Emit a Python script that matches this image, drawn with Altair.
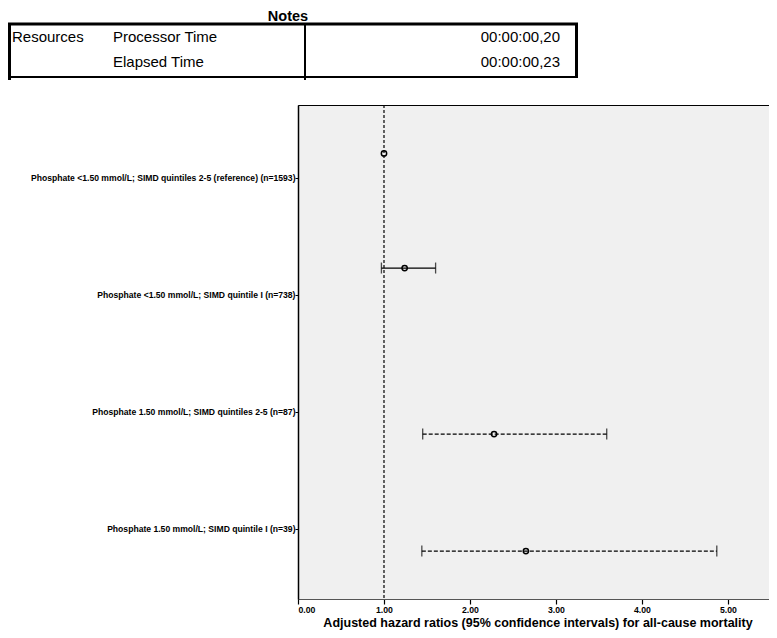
import altair as alt
import pandas as pd

# ---- data ----
categories = [
    "Phosphate <1.50 mmol/L; SIMD quintiles 2-5 (reference) (n=1593)",
    "Phosphate <1.50 mmol/L; SIMD quintile I (n=738)",
    "Phosphate 1.50 mmol/L; SIMD quintiles 2-5 (n=87)",
    "Phosphate 1.50 mmol/L; SIMD quintile I (n=39)",
]
hazard_ratio = [1.00, 1.24, 2.28, 2.65]
ci_lower = [1.00, 0.97, 1.45, 1.44]
ci_upper = [1.00, 1.60, 3.59, 4.87]
line_style = ["solid", "solid", "dashed", "dashed"]
label_row = [1, 2, 3, 4]
marker_row = [0.79, 1.77, 3.19, 4.19]
x_ticks = [0, 1, 2, 3, 4, 5]
reference_value = [1.0]

notes_title = "Notes"
notes_group = "Resources"
notes_items = ["Processor Time", "Elapsed Time"]
notes_values = ["00:00:00,20", "00:00:00,23"]
x_title = "Adjusted hazard ratios (95% confidence intervals) for all-cause mortality"

FONT = "Liberation Sans"

df = pd.DataFrame({
    "category": categories,
    "hr": hazard_ratio,
    "lo": ci_lower,
    "hi": ci_upper,
    "style": line_style,
    "row": marker_row,
})
ref_df = pd.DataFrame({"ref": reference_value})

label_expr = "[" + ",".join("'" + c + "'" for c in categories) + "][datum.value - 1]"

x_scale = alt.Scale(domain=[0, 5.477], nice=False, zero=False)
y_scale = alt.Scale(domain=[0.376, 4.60], nice=False, zero=False, reverse=True)

x_axis = alt.Axis(
    values=x_ticks, format=".2f", title=x_title, grid=False,
    labelFont=FONT, labelFontSize=8.7, labelFontWeight="bold", labelColor="black",
    labelPadding=1, tickSize=5, tickColor="black", tickWidth=1.2,
    domainColor="#555555", domainWidth=1,
    titleFont=FONT, titleFontSize=12.5, titleFontWeight="bold", titleColor="black",
    titleX=239.5, titleY=27, titleAnchor="middle", titleAlign="center",
    titleBaseline="alphabetic",
)
y_axis = alt.Axis(
    values=label_row, labelExpr=label_expr, title=None, grid=False,
    labelFont=FONT, labelFontSize=8.6, labelFontWeight="bold", labelColor="black",
    labelPadding=0, tickSize=3, tickColor="black", tickWidth=1,
    domainColor="black", domainWidth=1.5, labelLimit=400,
)

base = alt.Chart(df)

ref_rule = alt.Chart(ref_df).mark_rule(
    color="black", strokeWidth=1.2, strokeDash=[3, 2]
).encode(x=alt.X("ref:Q", scale=x_scale, axis=x_axis))

dash_scale = alt.Scale(domain=["solid", "dashed"], range=[[1, 0], [4, 2]])

ci_lines = base.mark_rule(color="black", strokeWidth=1.2).encode(
    x=alt.X("lo:Q", scale=x_scale, axis=x_axis),
    x2="hi:Q",
    y=alt.Y("row:Q", scale=y_scale, axis=y_axis),
    strokeDash=alt.StrokeDash("style:N", scale=dash_scale, legend=None),
)

caps_lo = base.transform_filter("datum.hi > datum.lo").mark_tick(
    orient="vertical", size=11, thickness=1.3, color="black"
).encode(x=alt.X("lo:Q", scale=x_scale), y=alt.Y("row:Q", scale=y_scale))
caps_hi = base.transform_filter("datum.hi > datum.lo").mark_tick(
    orient="vertical", size=11, thickness=1.3, color="black"
).encode(x=alt.X("hi:Q", scale=x_scale), y=alt.Y("row:Q", scale=y_scale))

points = base.mark_point(
    shape="circle", filled=False, size=28, strokeWidth=1.5, color="black", opacity=1
).encode(x=alt.X("hr:Q", scale=x_scale), y=alt.Y("row:Q", scale=y_scale))

one = alt.Data(values=[{"k": 0}])


def text(label, x, y, align="left", size=15, weight="normal", baseline="middle"):
    return alt.Chart(one).mark_text(
        text=label, align=align, baseline=baseline, font=FONT, fontSize=size,
        fontWeight=weight, color="black"
    ).encode(x=alt.value(x), y=alt.value(y))


def hline(x1, x2, y, w):
    return alt.Chart(one).mark_rule(color="black", strokeWidth=w).encode(
        x=alt.value(x1), x2=alt.value(x2), y=alt.value(y))


def vline(x, y1, y2, w):
    return alt.Chart(one).mark_rule(color="black", strokeWidth=w).encode(
        x=alt.value(x), y=alt.value(y1), y2=alt.value(y2))


table = [
    text(notes_title, -10, -95.5, align="center", size=14.5, weight="bold", baseline="top"),
    text(notes_group, -286, -68),
    text(notes_items[0], -185, -68),
    text(notes_items[1], -185, -43),
    text(notes_values[0], 262, -68, align="right"),
    text(notes_values[1], 262, -43, align="right"),
    hline(-290, 280, -81, 3),
    hline(-290, 280, -28, 2),
    vline(-288.5, -82, -25, 3),
    vline(278.5, -82, -28, 3),
    vline(7, -82, -25, 2),
]

chart = alt.layer(ref_rule, ci_lines, caps_lo, caps_hi, points, *table).properties(
    width=471, height=494,
    autosize=alt.AutoSizeParams(type="none"),
    padding={"left": 290, "top": 97, "right": 0, "bottom": 31},
).configure(
    background="white"
).configure_view(
    fill="#f0f0f0", stroke="black", strokeWidth=1
)

chart.save("out.html", embed_options={"renderer": "svg", "actions": False})
